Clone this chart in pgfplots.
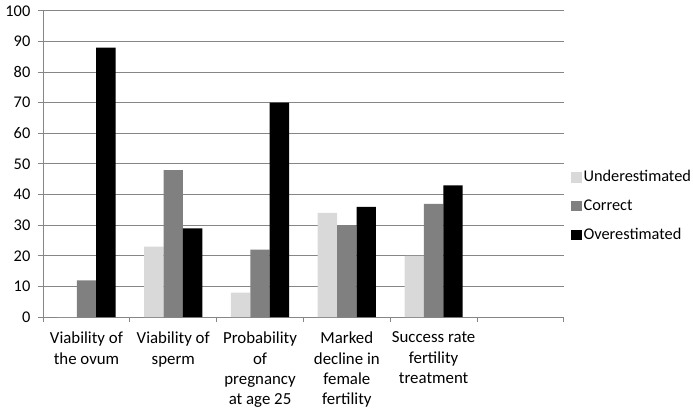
\documentclass[border=0pt]{standalone}
\usepackage{fontspec}
\setmainfont{Carlito}
\usepackage{pgfplots}
\pgfplotsset{compat=1.18}
\definecolor{under}{HTML}{D9D9D9}
\definecolor{corr}{HTML}{808080}
\definecolor{gridc}{HTML}{868686}
\begin{document}
\fontsize{16bp}{19bp}\selectfont
\begin{tikzpicture}
\begin{axis}[
  scale only axis,
  width=510bp, height=300bp,
  ybar=0pt, bar width=19bp,
  xmin=-0.5, xmax=5.5, ymin=0, ymax=100,
  ytick={0,10,...,100},
  ymajorgrids, major grid style={gridc, line width=0.9bp},
  axis lines*=left,
  axis line style={gridc, line width=0.9bp},
  every tick/.style={gridc, line width=0.9bp},
  major tick length=5bp,
  tick align=outside,
  xtick={-0.5,0.5,...,5.5},
  xticklabels={},
  extra x ticks={0,1,2,3,4},
  extra x tick labels={Viability of\\the ovum, Viability of\\sperm, Probability\\of\\pregnancy\\at age 25, Marked\\decline in\\female\\fertility, Success rate\\fertility\\treatment},
  extra x tick style={major tick length=0pt, grid=none, tick label style={align=center, yshift=-9bp, font=\fontsize{16.5bp}{20bp}\selectfont}},
  /pgf/number format/assume math mode=true,
  ticklabel style={font=\fontsize{16bp}{19bp}\selectfont},
  yticklabel style={xshift=-2bp},
  legend style={draw=none, inner sep=0pt, at={(1.014,0.362)}, anchor=west, font=\fontsize{16bp}{19bp}\selectfont, row sep=11bp, legend cell align=left},
  legend image code/.code={\fill[#1] (0bp,-5bp) rectangle (10bp,5bp);},
  clip=false,
]
\addplot[fill=under, draw=none] coordinates {(0,0) (1,23) (2,8) (3,34) (4,20)};
\addplot[fill=corr, draw=none] coordinates {(0,12) (1,48) (2,22) (3,30) (4,37)};
\addplot[fill=black, draw=none] coordinates {(0,88) (1,29) (2,70) (3,36) (4,43)};
\legend{Underestimated, Correct, Overestimated}
\end{axis}
\end{tikzpicture}
\end{document}
